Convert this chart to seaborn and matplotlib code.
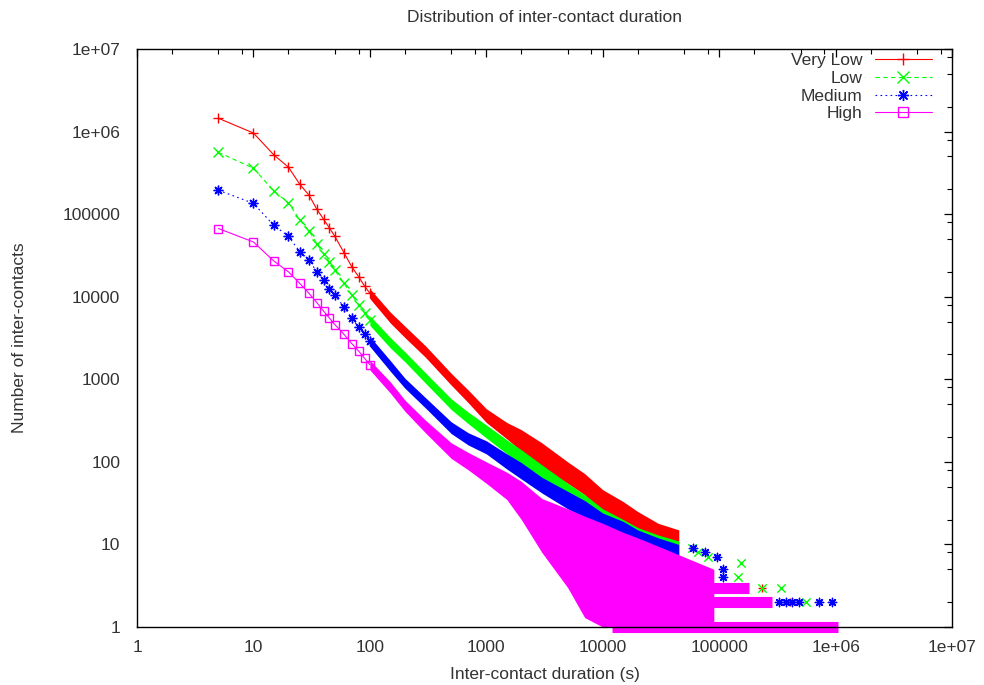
import numpy as np
import pandas as pd
import matplotlib
matplotlib.use("Agg")
import matplotlib.pyplot as plt
import seaborn as sns
from matplotlib.lines import Line2D
from matplotlib.ticker import LogLocator, NullFormatter

# Distribution of inter-contact duration (gnuplot) chart

## data
# first bins, drawn as separate markers
early_x = [5, 10, 15, 20, 25, 30, 35, 40, 45, 50, 60, 70, 80, 90, 100]
very_low_early = [1.45e6, 9.6e5, 5.2e5, 3.7e5, 2.3e5, 1.7e5, 1.15e5, 8.7e4, 6.8e4, 5.4e4,
                  3.4e4, 2.3e4, 1.75e4, 1.35e4, 1.1e4]
low_early = [5.6e5, 3.6e5, 1.9e5, 1.37e5, 8.5e4, 6.3e4, 4.4e4, 3.3e4, 2.6e4, 2.1e4,
             1.45e4, 1.05e4, 8000, 6400, 5200]
medium_early = [1.95e5, 1.35e5, 7.3e4, 5.4e4, 3.5e4, 2.8e4, 2.0e4, 1.6e4, 1.25e4, 1.05e4,
                7500, 5500, 4300, 3500, 2900]
high_early = [6.7e4, 4.6e4, 2.7e4, 2.0e4, 1.45e4, 1.1e4, 8500, 6700, 5500, 4600,
              3500, 2700, 2200, 1800, 1500]

# dense part: upper / lower edge of the cloud of points
band_x = [100, 150, 200, 300, 500, 700, 1000, 1500, 2000, 3000, 5000, 7000,
          10000, 15000, 20000, 30000, 45000, 90000]
nan = np.nan
very_low_hi = [1.25e4, 6500, 4400, 2550, 1180, 740, 440, 300, 245, 170, 100, 72,
               46, 33, 25, 18, 15, nan]
very_low_lo = [9500, 4800, 3200, 1850, 850, 520, 300, 190, 135, 85, 55, 40,
               24, 16, 11, 9, 10, nan]
low_hi = [5900, 3200, 2150, 1200, 580, 400, 280, 185, 140, 92, 55, 40,
          27, 20, 16, 13, 11, nan]
low_lo = [4500, 2400, 1630, 900, 430, 290, 195, 125, 88, 58, 33, 23,
          16, 12, 10, 8, 7, nan]
medium_hi = [3300, 1680, 1030, 600, 305, 225, 180, 125, 98, 65, 44, 34,
             24, 19, 15, 12, 10, nan]
medium_lo = [2500, 1250, 780, 450, 220, 160, 125, 82, 62, 42, 27, 21,
             15, 11, 9, 8, 7, nan]
high_hi = [1700, 930, 560, 320, 170, 130, 100, 75, 58, 36, 27, 22,
           18, 14, 12, 9.5, 7.5, 5]
high_lo = [1300, 680, 410, 225, 110, 80, 55, 35, 20, 8, 3, 1.3,
           1, 1, 1, 1, 1, 1]

# isolated long durations
very_low_tail_x = [234000, 245000, 410000]
very_low_tail_y = [3, 2, 2]
low_tail_x = [59000, 66000, 80000, 144000, 153000, 234000, 338000, 553000]
low_tail_y = [9, 8, 7, 4, 6, 3, 3, 2]
medium_tail_x = [60000, 75000, 95000, 107000, 107000, 120000, 327000, 373000,
                 426000, 485000, 720000, 936000]
medium_tail_y = [9, 8, 7, 5, 4, 3, 2, 2, 2, 2, 2, 2]
# runs of "High" points along low counts
high_row_y = [3, 2, 1]
high_row_start = [87000, 87000, 12000]
high_row_end = [181000, 285000, 1050000]

series = ["Very Low", "Low", "Medium", "High"]
colors = ["#ff0000", "#00ff00", "#0000ff", "#ff00ff"]
markers = ["+", "x", (8, 2, 0), "s"]
styles = ["-", (0, (4, 3)), (0, (1.5, 3)), "-"]
early = [very_low_early, low_early, medium_early, high_early]
his = [very_low_hi, low_hi, medium_hi, high_hi]
los = [very_low_lo, low_lo, medium_lo, high_lo]
tails = {0: (very_low_tail_x, very_low_tail_y),
         1: (low_tail_x, low_tail_y),
         2: (medium_tail_x, medium_tail_y)}

x_ticks = [1, 10, 100, 1000, 10000, 100000, 1e6, 1e7]
x_tick_labels = ["1", "10", "100", "1000", "10000", "100000", "1e+06", "1e+07"]
y_ticks = [1, 10, 100, 1000, 10000, 100000, 1e6, 1e7]
y_tick_labels = ["1", "10", "100", "1000", "10000", "100000", "1e+06", "1e+07"]

## style
sns.set_theme(style="white")
plt.rcParams["font.family"] = ["Liberation Sans", "DejaVu Sans"]
fs = 12.5
txt_color = "#333333"

fig = plt.figure(figsize=(9.84, 6.85), dpi=100)
ax = fig.add_axes([137 / 984, 1 - 627 / 685, (952 - 137) / 984, (627 - 49) / 685])
ax.set_xscale("log")
ax.set_yscale("log")

handles = []
for i, name in enumerate(series):
    c = colors[i]
    ms = 7 if i != 3 else 6
    mfc = "none" if i == 3 else c
    ax.fill_between(band_x, los[i], his[i], color=c, lw=0, zorder=2)
    df = pd.DataFrame({"x": early_x, "y": early[i]})
    sns.lineplot(data=df, x="x", y="y", ax=ax, color=c, lw=0.8, linestyle=styles[i],
                 marker=markers[i], markersize=ms, markeredgecolor=c,
                 markeredgewidth=1.0, markerfacecolor=mfc, legend=False, zorder=2)
    if i in tails:
        tx, ty = tails[i]
        ax.scatter(tx, ty, marker=markers[i], s=36, color=c, linewidths=1.0, zorder=2)
    handles.append(Line2D([], [], color=c, lw=0.8, linestyle=styles[i], marker=markers[i],
                          markersize=ms + 1, markeredgecolor=c, markeredgewidth=1.0,
                          markerfacecolor=mfc, label=name))

# High runs at counts 1-3
ax.hlines(high_row_y, high_row_start, high_row_end, color=colors[3], lw=8, zorder=2,
          clip_on=False)

ax.set_xlim(1, 1e7)
ax.set_ylim(1, 1e7)
ax.set_xticks(x_ticks)
ax.set_xticklabels(x_tick_labels)
ax.set_yticks(y_ticks)
ax.set_yticklabels(y_tick_labels)
ax.xaxis.set_minor_locator(LogLocator(base=10, subs=(2, 5, 8), numticks=20))
ax.yaxis.set_minor_locator(LogLocator(base=10, subs=(2, 5, 8), numticks=20))
ax.xaxis.set_minor_formatter(NullFormatter())
ax.yaxis.set_minor_formatter(NullFormatter())
ax.tick_params(which="both", direction="in", top=True, right=True, colors="black",
               labelsize=fs, labelcolor=txt_color)
ax.tick_params(which="major", length=6, width=0.9, pad=9)
ax.tick_params(axis="y", which="major", pad=12)
ax.tick_params(which="minor", length=3.5, width=0.8)
for sp in ax.spines.values():
    sp.set_color("black")
    sp.set_linewidth(1.0)
    sp.set_zorder(3)
ax.set_xlabel("")
ax.set_ylabel("")
ax.grid(False)

fig.text(544.5 / 984, 1 - 18 / 685, "Distribution of inter-contact duration",
         ha="center", va="center", fontsize=fs, color=txt_color)
fig.text(544.5 / 984, 1 - 675 / 685, "Inter-contact duration (s)",
         ha="center", va="center", fontsize=fs, color=txt_color)
fig.text(20 / 984, 1 - 338 / 685, "Number of inter-contacts", rotation=90,
         ha="center", va="center", fontsize=fs, color=txt_color)

leg = ax.legend(handles=handles, loc="upper right",
                bbox_to_anchor=(932 / 984, 1 - 53 / 685),
                bbox_transform=fig.transFigure, frameon=False, markerfirst=False,
                fontsize=fs, handlelength=3.3, handletextpad=0.7, labelspacing=0.15,
                borderpad=0, borderaxespad=0, numpoints=1)
# right-align the labels like gnuplot's key
for col in leg._legend_handle_box.get_children():
    col.align = "right"
for t in leg.get_texts():
    t.set_color(txt_color)

fig.savefig("out.png", dpi=100)
